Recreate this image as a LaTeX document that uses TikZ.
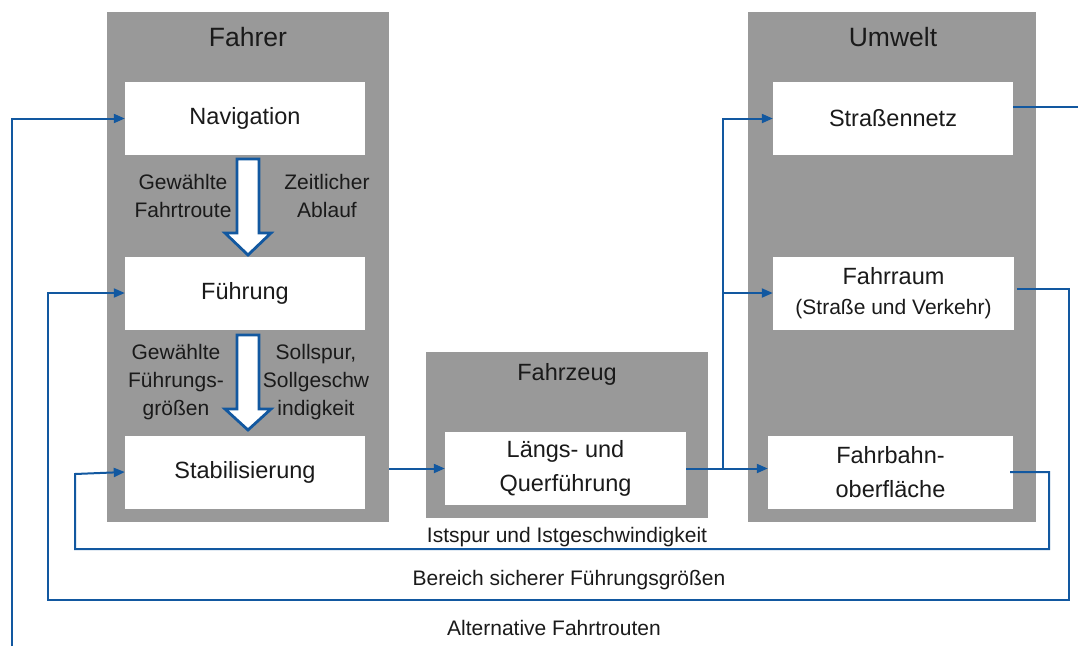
\documentclass[tikz,border=0pt]{standalone}
\usepackage{fontspec}
\setmainfont{Liberation Sans}
\usetikzlibrary{arrows.meta}
\definecolor{grayfill}{RGB}{153,153,153}
\definecolor{lineblue}{RGB}{18,88,160}
\definecolor{txt}{RGB}{26,26,26}
\tikzset{
  group/.style={fill=grayfill, draw=none, inner sep=0pt},
  box/.style={fill=white, draw=none, inner sep=0pt, minimum width=240pt, minimum height=73pt, align=center, text=txt, font=\fontsize{23.5}{34}\selectfont},
  title/.style={text=txt, font=\fontsize{26.5}{30}\selectfont, inner sep=0pt},
  lbl/.style={text=txt, font=\fontsize{21}{28}\selectfont, align=center, inner sep=0pt},
  conn/.style={draw=lineblue, line width=2pt},
  arr/.style={conn, -{Triangle[length=11pt,width=9pt]}},
  blockarrow/.style={draw=lineblue, fill=white, line width=2.8pt, line join=miter},
}
\begin{document}
\begin{tikzpicture}[x=1pt,y=-1pt]
\useasboundingbox (0,0) rectangle (1078,646);
% groups
\node[group, minimum width=282pt, minimum height=510pt] (fahrer) at (248,267) {};
\node[group, minimum width=282pt, minimum height=166pt] (fzg) at (567,435) {};
\node[group, minimum width=288pt, minimum height=510pt] (umwelt) at (892,267) {};
\node[title] (tfahrer) at (248,37) {Fahrer};
\node[title] (tfzg) at (567,374) {\fontsize{23.5}{26}\selectfont Fahrzeug};
\node[title] (tumwelt) at (893,37) {Umwelt};
% boxes
\node[box] (nav) at (245,118.5) {Navigation};
\node[box] (fue) at (245,293) {Führung};
\node[box] (stab) at (245,472) {Stabilisierung};
\node[box, minimum width=241pt] (laengs) at (565.5,468.5) {Längs- und\\Querführung};
\node[box] (sn) at (893,118.5) {Straßennetz};
\node[box, minimum width=241pt] (fr) at (893.5,293) {Fahrraum\\[-4pt]{\fontsize{21}{24}\selectfont (Straße und Verkehr)}};
\node[box, minimum width=245pt] (fb) at (890.5,472) {Fahrbahn-\\oberfläche};
% block arrows
\draw[blockarrow] (237,159) -- (259,159) -- (259,233) -- (271,233) -- (248,255) -- (225,233) -- (237,233) -- cycle;
\draw[blockarrow] (237,335) -- (259,335) -- (259,409) -- (271,409) -- (248,430) -- (225,409) -- (237,409) -- cycle;
% labels in Fahrer
\node[lbl] (l1) at (183,196) {Gewählte\\Fahrtroute};
\node[lbl] (l2) at (327,196) {Zeitlicher\\Ablauf};
\node[lbl] (l3) at (176,382) {Gewählte\\Führungs-\\größen};
\node[lbl] (l4) at (316,382) {Sollspur,\\Sollgeschw\\indigkeit};
% connectors
\draw[arr] (fahrer.east |- laengs.west) -- (laengs.west);
\coordinate (br) at (723,468.5);
\draw[arr] (laengs.east) -- (fb.west |- laengs.east);
\draw[arr] (br) |- (sn.west);
\draw[arr] (br) |- (fr.west);
% Strassennetz out
\coordinate (snout) at (1078,107);
\draw[conn] (sn.east |- snout) -- (snout);
% Fahrraum loop
\coordinate (f1) at (1069,289);
\coordinate (f2) at (1069,600);
\coordinate (f3) at (48,600);
\coordinate (f4) at (48,293);
\draw[arr] ([xshift=3pt]fr.east |- f1) -- (f1) -- (f2) -- (f3) -- (f4) -- (fue.west);
% Fahrbahn loop
\coordinate (g1) at (1049,472);
\coordinate (g2) at (1049,549);
\coordinate (g3) at (75,549);
\coordinate (g4) at (75,474);
\draw[arr] ([xshift=-3pt]fb.east) -- (g1) -- (g2) -- (g3) -- (g4) -- (stab.west);
% Navigation line
\coordinate (n0) at (12,646);
\coordinate (n1) at (12,118.5);
\draw[arr] (n0) -- (n1) -- (nav.west);
% loop labels
\node[lbl] (li) at (567,537) {Istspur und Istgeschwindigkeit};
\node[lbl] (lb) at (569,580) {Bereich sicherer Führungsgrößen};
\node[lbl] (la) at (554,628) {Alternative Fahrtrouten};
\end{tikzpicture}
\end{document}
